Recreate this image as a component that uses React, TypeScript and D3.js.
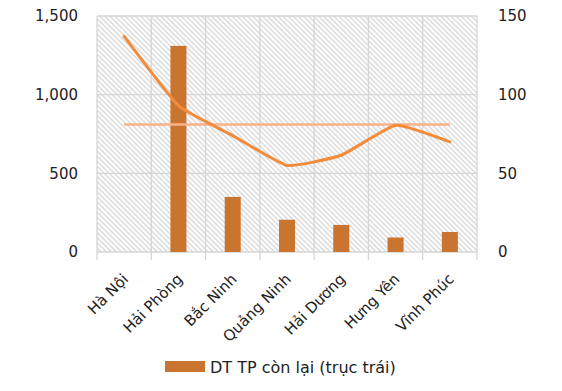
import { useEffect, useRef } from 'react'
import * as d3 from 'd3'

const provinces = ['Hà Nội', 'Hải Phòng', 'Bắc Ninh', 'Quảng Ninh', 'Hải Dương', 'Hưng Yên', 'Vĩnh Phúc']
// DT TP còn lại, left axis (Hà Nội has no bar)
const areaLeft: (number | null)[] = [null, 1310, 350, 205, 172, 92, 127]
// line on right axis
const ratioRight = [137, 93, 74, 55, 61.5, 80.5, 70]
// flat average line on right axis
const avgRight = [81, 81, 81, 81, 81, 81, 81]
const leftTicks = [0, 500, 1000, 1500]
const rightTicks = [0, 50, 100, 150]
const legendLabel = 'DT TP còn lại (trục trái)'

const font = '"DejaVu Sans", Verdana, sans-serif'

function App() {
  const ref = useRef<SVGSVGElement>(null)

  useEffect(() => {
    const svg = d3.select(ref.current)
    svg.selectAll('*').remove()

    const margin = { top: 16, left: 97, right: 85, bottom: 139 }
    const width = 562
    const height = 391
    const innerW = width - margin.left - margin.right
    const innerH = height - margin.top - margin.bottom

    const defs = svg.append('defs')
    const pat = defs
      .append('pattern')
      .attr('id', 'hatch')
      .attr('patternUnits', 'userSpaceOnUse')
      .attr('width', 3.6)
      .attr('height', 3.6)
      .attr('patternTransform', 'rotate(-45)')
    pat.append('rect').attr('width', 3.6).attr('height', 3.6).attr('fill', '#fff')
    pat.append('rect').attr('x', 1.2).attr('y', -1).attr('width', 1.2).attr('height', 6)
      .attr('fill', '#d2d2d2')

    const g = svg.append('g').attr('transform', `translate(${margin.left},${margin.top})`)

    const x = d3.scaleBand().domain(provinces).range([0, innerW]).padding(0)
    const yL = d3.scaleLinear().domain([0, 1500]).range([innerH, 0])
    const yR = d3.scaleLinear().domain([0, 150]).range([innerH, 0])

    g.append('rect').attr('width', innerW).attr('height', innerH).attr('fill', 'url(#hatch)')

    // gridlines
    g.selectAll('.hg').data(leftTicks).join('line')
      .attr('x1', 0).attr('x2', innerW)
      .attr('y1', (d) => yL(d)).attr('y2', (d) => yL(d))
      .attr('stroke', '#d6d6d6').attr('stroke-width', 1.3)
    const bounds = d3.range(provinces.length + 1).map((i) => i * x.step())
    g.selectAll('.vg').data(bounds).join('line')
      .attr('x1', (d) => d).attr('x2', (d) => d)
      .attr('y1', 0).attr('y2', innerH + 8)
      .attr('stroke', '#d6d6d6').attr('stroke-width', 1.3)

    // bars
    const bw = 16
    g.selectAll('.bar').data(provinces.map((p, i) => ({ p, v: areaLeft[i] })).filter((d) => d.v != null)).join('rect')
      .attr('x', (d) => x(d.p)! + x.bandwidth() / 2 - bw / 2)
      .attr('y', (d) => yL(d.v as number))
      .attr('width', bw)
      .attr('height', (d) => innerH - yL(d.v as number))
      .attr('fill', '#c9742f')

    const cx = (i: number) => x(provinces[i])! + x.bandwidth() / 2

    // average line
    g.append('path')
      .attr('d', d3.line<number>().x((_, i) => cx(i)).y((d) => yR(d))(avgRight))
      .attr('fill', 'none').attr('stroke', '#f8b38a').attr('stroke-width', 2.5)

    // ratio line
    g.append('path')
      .attr('d', d3.line<number>().x((_, i) => cx(i)).y((d) => yR(d)).curve(d3.curveCardinal.tension(0.6))(ratioRight))
      .attr('fill', 'none').attr('stroke', '#f28c3a').attr('stroke-width', 3)
      .attr('stroke-linejoin', 'round').attr('stroke-linecap', 'round')

    // left axis labels
    g.selectAll('.lt').data(leftTicks).join('text')
      .attr('x', -19).attr('y', (d) => yL(d)).attr('dy', '0.35em')
      .attr('text-anchor', 'end').attr('font-family', font).attr('font-size', 15).attr('fill', '#222')
      .text((d) => d3.format(',')(d))

    // right axis labels
    g.selectAll('.rt').data(rightTicks).join('text')
      .attr('x', innerW + 21).attr('y', (d) => yR(d)).attr('dy', '0.35em')
      .attr('text-anchor', 'start').attr('font-family', font).attr('font-size', 15).attr('fill', '#222')
      .text((d) => d)

    // category labels
    g.selectAll('.xl').data(provinces).join('text')
      .attr('transform', (d) => `translate(${x(d)! + x.bandwidth() / 2 + 5},${innerH + 28}) rotate(-45)`)
      .attr('text-anchor', 'end')
      .attr('font-family', font).attr('font-size', 15).attr('fill', '#222')
      .text((d) => d)

    // legend
    const lg = svg.append('g').attr('transform', 'translate(165,361)')
    lg.append('rect').attr('width', 40).attr('height', 11).attr('fill', '#c9742f')
    lg.append('text').attr('x', 45).attr('y', 6).attr('dy', '0.35em')
      .attr('font-family', font).attr('font-size', 16).attr('fill', '#222')
      .text(legendLabel)
  }, [])

  return <svg ref={ref} width={562} height={391} style={{ display: 'block', position: 'absolute', left: 0, top: 0 }} />
}

export default App
